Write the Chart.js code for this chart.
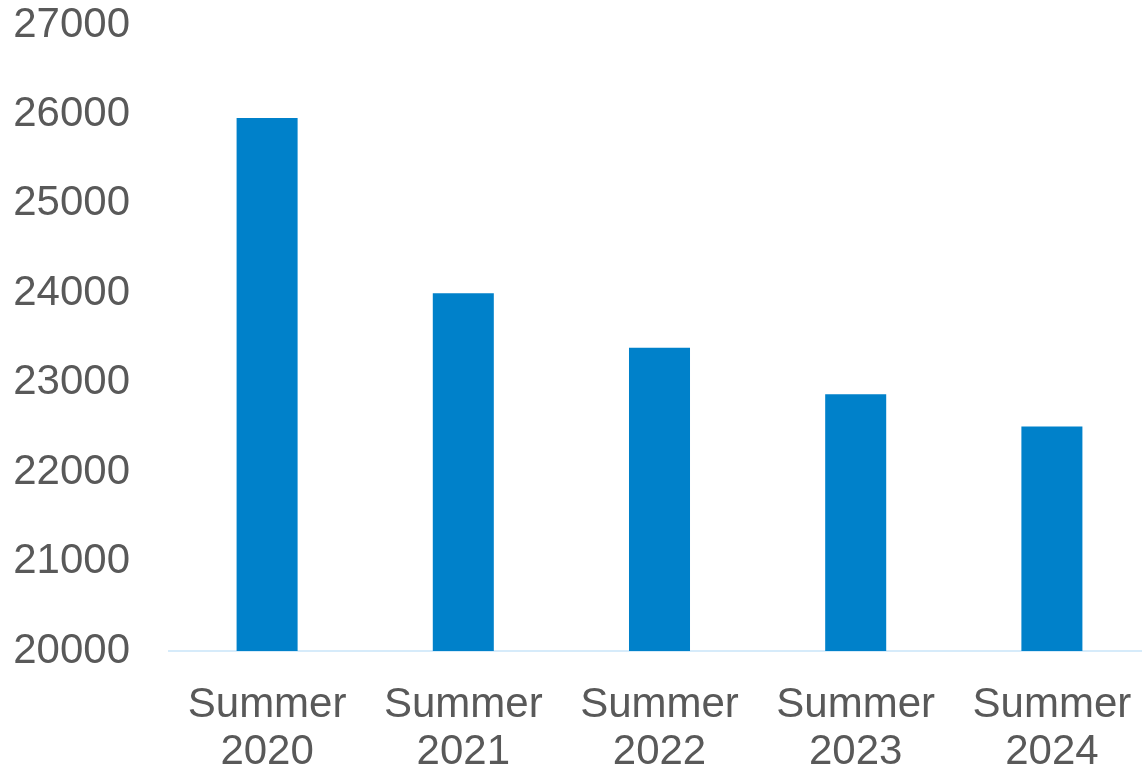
<!DOCTYPE html>
<html>
<head>
<meta charset="utf-8">
<script src="https://cdn.jsdelivr.net/npm/chart.js@4/dist/chart.umd.min.js"></script>
<style>
    html, body { margin: 0; padding: 0; background: #fff; overflow: hidden; }
    #wrap { width: 1150px; height: 770px; }
</style>
</head>
<body>
<div id="wrap"><canvas id="myChart"></canvas></div>
<script>
const categories = [['Summer', '2020'], ['Summer', '2021'], ['Summer', '2022'], ['Summer', '2023'], ['Summer', '2024']];
const values = [25960, 24000, 23390, 22870, 22510];
const yMin = 20000;
const yMax = 27000;
const yStep = 1000;

var ctx = document.getElementById('myChart').getContext('2d');
var myChart = new Chart(ctx, {
    type: 'bar',
    data: {
        labels: categories,
        datasets: [
            {
                data: values,
                backgroundColor: '#0081CA',
                barPercentage: 0.311,
                categoryPercentage: 1.0
            }
        ]
    },
    options: {
        responsive: true,
        maintainAspectRatio: false,
        animation: false,
        layout: { padding: { left: 14, right: 0, top: 0, bottom: 0 } },
        plugins: {
            legend: { display: false },
            tooltip: { enabled: false }
        },
        scales: {
            x: {
                grid: { display: false },
                border: { display: true, color: '#D6EBFA', width: 2 },
                ticks: {
                    color: '#595959',
                    padding: 23,
                    maxRotation: 0,
                    autoSkip: false,
                    font: { family: 'Liberation Sans, Arial, sans-serif', size: 42, lineHeight: 1.12 }
                },
                // fixed height, no extra side padding for the wide labels
                afterFit: function (scale) {
                    scale.height = 119;
                    scale.paddingLeft = 0;
                    scale.paddingRight = 0;
                }
            },
            y: {
                min: yMin,
                max: yMax,
                grid: { display: false },
                border: { display: false },
                ticks: {
                    stepSize: yStep,
                    color: '#595959',
                    padding: 31,
                    font: { family: 'Liberation Sans, Arial, sans-serif', size: 42 },
                    callback: function (v) { return String(v); }
                },
                afterFit: function (scale) {
                    scale.width = 155;
                    scale.paddingTop = 25;
                    scale.paddingBottom = 0;
                }
            }
        }
    }
});
</script>
</body>
</html>
